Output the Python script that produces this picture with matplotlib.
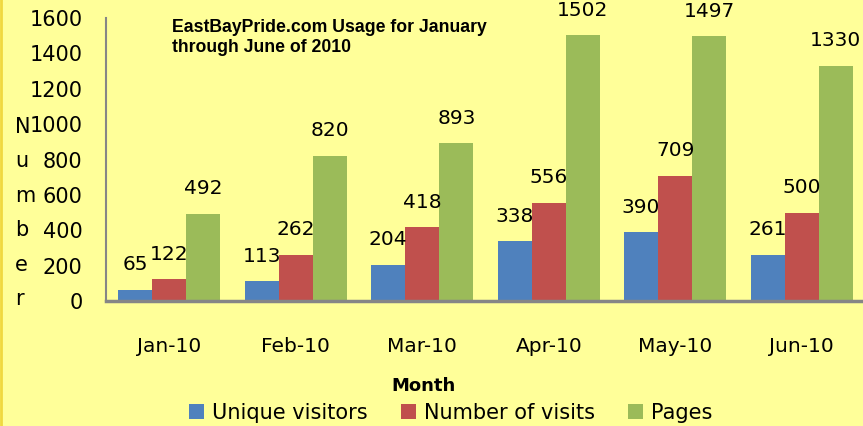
import numpy as np
import matplotlib
matplotlib.use("Agg")
import matplotlib.pyplot as plt

months = ["Jan-10", "Feb-10", "Mar-10", "Apr-10", "May-10", "Jun-10"]
unique_visitors = [65, 113, 204, 338, 390, 261]
visits = [122, 262, 418, 556, 709, 500]
pages = [492, 820, 893, 1502, 1497, 1330]
y_ticks = [0, 200, 400, 600, 800, 1000, 1200, 1400, 1600]

series = [
    ("Unique visitors", unique_visitors, "#4F81BD"),
    ("Number of visits", visits, "#C0504D"),
    ("Pages", pages, "#9BBB59"),
]

bg = "#FFFF99"
plt.rcParams["font.family"] = "DejaVu Sans"

fig = plt.figure(figsize=(8.63, 4.26), dpi=100)
fig.patch.set_facecolor(bg)
ax = fig.add_axes([106 / 863, 125 / 426, 759 / 863, 283 / 426])
ax.set_facecolor(bg)

x = np.arange(len(months))
w = 0.27
for i, (name, vals, col) in enumerate(series):
    pos = x + (i - 1) * w
    ax.bar(pos, vals, width=w, color=col, label=name, zorder=2)
    for px, v in zip(pos, vals):
        ax.annotate(str(v), (px, v), xytext=(0, 18), textcoords="offset points",
                    ha="center", va="center", fontsize=14.5, color="black")

ax.set_xlim(-0.5, len(months) - 0.5)
ax.set_ylim(0, 1600)
ax.set_yticks(y_ticks)
ax.set_yticklabels([str(t) for t in y_ticks], fontsize=15)
ax.set_xticks(x)
ax.set_xticklabels(months, fontsize=14.5)
ax.tick_params(axis="y", length=0, pad=17)
ax.tick_params(axis="x", length=0, pad=26)

for s in ["top", "right"]:
    ax.spines[s].set_visible(False)
ax.spines["left"].set_color("#868686")
ax.spines["left"].set_linewidth(1.5)
ax.spines["bottom"].set_color("#868686")
ax.spines["bottom"].set_linewidth(2.5)

# stacked y-axis label
fig.text(15 / 863, 1 - 213 / 426, "N\nu\nm\nb\ne\nr", ha="left", va="center",
         fontsize=15, linespacing=1.9)

fig.text(423 / 863, 1 - 386 / 426, "Month", ha="center", va="center",
         fontsize=13, fontweight="bold")

fig.text(172 / 863, 1 - 19 / 426, "EastBayPride.com Usage for January\nthrough June of 2010",
         ha="left", va="top", fontsize=12.7, fontweight="bold",
         family="Liberation Sans", linespacing=1.25)

fig.legend(loc="center", bbox_to_anchor=(451 / 863, 1 - 413 / 426), ncol=3,
           frameon=False, fontsize=15, handlelength=0.7, handleheight=0.7,
           handletextpad=0.4, columnspacing=1.6, borderaxespad=0)

# thin darker border at the left edge
fig.add_artist(plt.Line2D([0.001, 0.001], [0, 1], transform=fig.transFigure,
                          color="#F0D840", linewidth=2))

fig.savefig("out.png", dpi=100, facecolor=bg)
